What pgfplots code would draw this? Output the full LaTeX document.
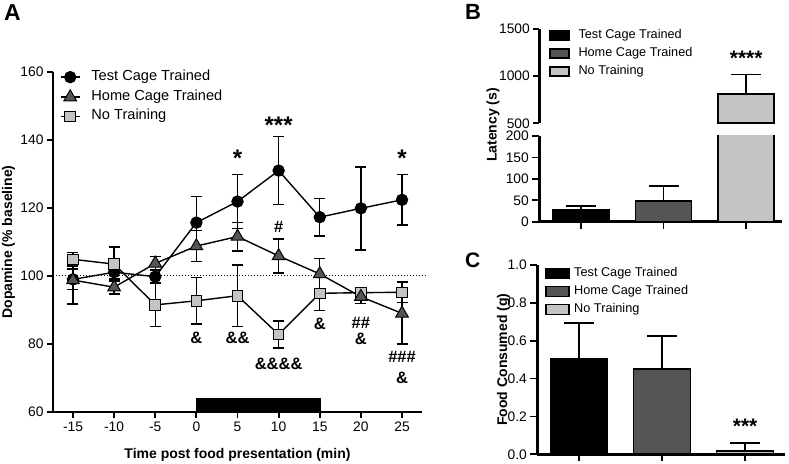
\documentclass[border=0pt]{standalone}
\usepackage{pgfplots}
\pgfplotsset{compat=1.18}
\usepackage{fontspec}
\setmainfont{Liberation Sans}
\definecolor{dkgray}{HTML}{555555}
\definecolor{ltgray}{HTML}{C4C4C4}
\newcommand{\fs}[1]{\fontsize{#1bp}{#1bp}\selectfont}
\pgfplotstableread{
x y e
-15 99.0 3
-10 101.1 2
-5 99.8 2
0 115.7 7.6
5 121.9 8
10 131.0 10
15 117.3 5.5
20 119.9 12.2
25 122.4 7.4
}\tct
\pgfplotstableread{
x y e
-15 98.8 7
-10 96.7 2
-5 103.7 2
0 108.8 4.6
5 111.6 4.2
10 105.9 5
15 100.6 4.6
20 93.9 2
25 89.0 9
}\hct
\pgfplotstableread{
x y e
-15 104.9 2
-10 103.5 5
-5 91.5 6.4
0 92.7 6.8
5 94.2 9
10 82.8 4
15 94.9 5
20 95.1 1.5
25 95.2 3
}\ntr
\tikzset{ann/.style={inner sep=0pt, font=\bfseries\fs{16.5}}}
\pgfplotsset{
  myaxis/.style={
    scale only axis, anchor=south west,
    axis lines*=left, axis line style={line width=2.5bp,-},
    tick align=outside, major tick length=6bp,
    major tick style={line width=1.8bp, black},
    tick label style={font=\fs{13.8}},
    /pgf/number format/assume math mode=true,
    label style={font=\bfseries\fs{14}},
  },
  ebar/.style={error bars/.cd, y dir=both, y explicit,
    error bar style={line width=1.4bp, black, solid},
    error mark options={rotate=90, mark size=5.5bp, line width=1.4bp, black, solid}, /pgfplots/.cd},
  bbar/.style={error bars/.cd, y dir=plus, y explicit,
    error bar style={line width=1.6bp, black},
    error mark options={rotate=90, mark size=15bp, line width=1.6bp, black}, /pgfplots/.cd},
}
\begin{document}
\begin{tikzpicture}[x=1bp,y=1bp]
\useasboundingbox (0,0) rectangle (789,464);
% Panel letters
\node[anchor=north west, inner sep=0pt, font=\bfseries\fs{23}] at (4bp,460bp) {A};
\node[anchor=north west, inner sep=0pt, font=\bfseries\fs{22}] at (465bp,459.5bp) {B};
\node[anchor=north west, inner sep=0pt, font=\bfseries\fs{21}] at (465bp,211.5bp) {C};
% ---------------- Panel A
\begin{axis}[myaxis, at={(53bp,52bp)}, width=369bp, height=340bp, clip=false,
  xmin=-17.43, xmax=27.43, ymin=60, ymax=160,
  xtick={-15,-10,-5,0,5,10,15,20,25}, xticklabels={-15,-10,-5,0,5,10,15,20,25},
  ytick={60,80,100,120,140,160}, yticklabels={60,80,100,120,140,160},
  xlabel={Time post food presentation (min)}, ylabel={Dopamine (\% baseline)},
  xlabel style={at={(axis description cs:0.5,-0.125)}, anchor=center},
  ylabel style={at={(axis description cs:-0.1206,0.5)}, anchor=center},
  legend style={at={(axis cs:-16.6,160.45)}, anchor=north west, draw=none, fill=none,
    font=\fs{14.6}, inner sep=0pt, row sep=6.2bp, column sep=11bp,
    nodes={inner sep=0pt, text height=10bp, text depth=3bp}},
  legend cell align=left,
  legend image code/.code={\draw[#1, mark repeat=2, mark phase=2] plot coordinates {(0bp,0bp) (9.5bp,0bp) (19bp,0bp)};},
]
\addplot[black, line width=1bp, dash pattern=on 1.2bp off 1.8bp, forget plot] coordinates {(-17.43,100) (27.9,100)};
\addplot[fill=black, draw=black, forget plot] coordinates {(0,60) (0,64) (15,64) (15,60)} -- cycle;
\addplot[black, line width=1.4bp, mark=*, mark size=5.5bp, mark options={solid, fill=black}, forget plot, ebar] table[x=x, y=y, y error=e] {\tct};
\addplot[black, line width=1.4bp, mark=square*, mark size=5.3bp, mark options={solid, fill=ltgray, line width=1bp}, forget plot, ebar] table[x=x, y=y, y error=e] {\ntr};
\addplot[black, line width=1.4bp, mark=triangle*, mark size=7.3bp, mark options={solid, fill=dkgray, line width=1bp}, forget plot, ebar] table[x=x, y=y, y error=e] {\hct};
\addlegendimage{black, line width=1.4bp, mark=*, mark size=5.5bp, mark options={fill=black}}
\addlegendentry{Test Cage Trained}
\addlegendimage{black, line width=1.4bp, mark=triangle*, mark size=7.3bp, mark options={fill=dkgray, line width=1bp}}
\addlegendentry{Home Cage Trained}
\addlegendimage{black, line width=1.4bp, mark=square*, mark size=5.3bp, mark options={fill=ltgray, line width=1bp}}
\addlegendentry{No Training}
\node[ann, font=\bfseries\fs{24}] at (axis cs:5,134.5) {*};
\node[ann, font=\bfseries\fs{24}] at (axis cs:10,144.3) {***};
\node[ann, font=\bfseries\fs{24}] at (axis cs:25,134.5) {*};
\node[ann] at (axis cs:10,114.5) {\#};
\node[ann] at (axis cs:0,81.7) {\&};
\node[ann] at (axis cs:5,81.7) {\&\&};
\node[ann] at (axis cs:10,74.3) {\&\&\&\&};
\node[ann] at (axis cs:15,86) {\&};
\node[ann] at (axis cs:20,86.3) {\#\#};
\node[ann] at (axis cs:20,81.6) {\&};
\node[ann] at (axis cs:25,76.3) {\#\#\#};
\node[ann] at (axis cs:25,69.9) {\&};
\end{axis}
% ---------------- Panel B lower
\begin{axis}[myaxis, at={(539.3bp,242.3bp)}, width=242.4bp, height=85.7bp,
  xmin=0.497, xmax=3.43, ymin=0, ymax=200,
  ytick={0,50,100,150,200}, yticklabels={0,50,100,150,200},
  xtick={1,2,3}, xticklabels={,,}, major tick length=7bp,
  ylabel={Latency (s)},
  ylabel style={at={(axis description cs:-0.191,1.128)}, anchor=center},
]
\addplot[ybar, bar width=56bp, bar shift=0pt, fill=black, draw=black, line width=1.6bp, bbar] coordinates {(1,27.3) +- (0,9.3)};
\addplot[ybar, bar width=56bp, bar shift=0pt, fill=dkgray, draw=black, line width=1.6bp, bbar] coordinates {(2,48.3) +- (0,35)};
\addplot[ybar, bar width=56bp, bar shift=0pt, fill=ltgray, draw=black, line width=1.6bp, bbar] coordinates {(3,806.6) +- (0,211)};
\end{axis}
% ---------------- Panel B upper
\begin{axis}[myaxis, axis x line=none, at={(539.3bp,340.7bp)}, width=242.4bp, height=94.6bp,
  xmin=0.497, xmax=3.43, ymin=500, ymax=1500,
  ytick={500,1000,1500}, yticklabels={500,1000,1500},
  legend style={at={(axis description cs:0.04,0.995)}, anchor=north west, draw=none, fill=none,
    font=\fs{12.7}, inner sep=0pt, row sep=5.5bp, column sep=8.7bp,
    nodes={inner sep=0pt, text height=9.5bp, text depth=3bp}},
  legend cell align=left,
  legend image code/.code={\draw[#1, line width=1.6bp] (0bp,-4.5bp) rectangle (19bp,4.5bp);},
]
\addplot[ybar, bar width=56bp, bar shift=0pt, fill=ltgray, draw=black, line width=1.6bp, forget plot, bbar] coordinates {(3,806.6) +- (0,211)};
\addlegendimage{fill=black, draw=black}
\addlegendentry{Test Cage Trained}
\addlegendimage{fill=dkgray, draw=black}
\addlegendentry{Home Cage Trained}
\addlegendimage{fill=ltgray, draw=black}
\addlegendentry{No Training}
\node[ann, font=\bfseries\fs{21}] at (axis cs:3,1190) {****};
\end{axis}
% ---------------- Panel C
\begin{axis}[myaxis, at={(537.3bp,9.7bp)}, width=247.7bp, height=189.3bp,
  xmin=0.498, xmax=3.48, ymin=0, ymax=1,
  ytick={0,0.2,0.4,0.6,0.8,1}, yticklabels={0.0,0.2,0.4,0.6,0.8,1.0},
  xtick={1,2,3}, xticklabels={,,}, major tick length=7bp,
  ylabel={Food Consumed (g)},
  ylabel style={at={(axis description cs:-0.1365,0.5)}, anchor=center},
  legend style={at={(axis description cs:0.03,0.99)}, anchor=north west, draw=none, fill=none,
    font=\fs{12.7}, inner sep=0pt, row sep=5.5bp, column sep=4.7bp,
    nodes={inner sep=0pt, text height=9.5bp, text depth=3bp}},
  legend cell align=left,
  legend image code/.code={\draw[#1, line width=1.6bp] (0bp,-5bp) rectangle (23bp,5bp);},
]
\addplot[ybar, bar width=57bp, bar shift=0pt, fill=black, draw=black, line width=1.6bp, bbar] coordinates {(1,0.503) +- (0,0.189)};
\addlegendentry{Test Cage Trained}
\addplot[ybar, bar width=57bp, bar shift=0pt, fill=dkgray, draw=black, line width=1.6bp, bbar] coordinates {(2,0.449) +- (0,0.176)};
\addlegendentry{Home Cage Trained}
\addplot[ybar, bar width=57bp, bar shift=0pt, fill=ltgray, draw=black, line width=1.6bp, bbar] coordinates {(3,0.017) +- (0,0.044)};
\addlegendentry{No Training}
\node[ann, font=\bfseries\fs{21}] at (axis cs:3,0.15) {***};
\end{axis}
\end{tikzpicture}
\end{document}
